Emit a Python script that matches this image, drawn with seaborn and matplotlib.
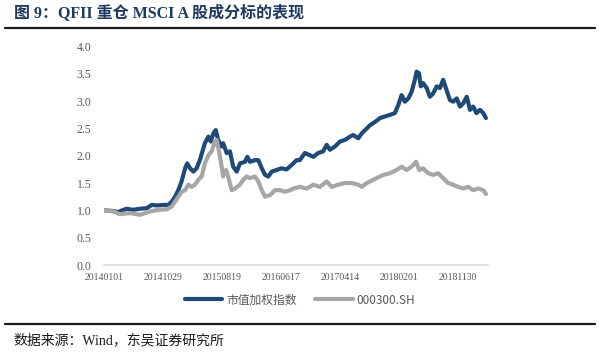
import numpy as np
import pandas as pd
import seaborn as sns
import matplotlib
matplotlib.use('Agg')
import matplotlib.pyplot as plt
from matplotlib.lines import Line2D

# trading-day index (0 = 20140101) and index level
mv_days = [0, 27, 48, 61, 77, 98, 122, 145, 162, 180, 201, 218, 230, 241, 252, 263,
           275, 282, 292, 303, 314, 325, 342, 354, 362, 371, 379, 387, 399, 404, 416,
           427, 438, 450, 461, 478, 486, 495, 512, 523, 535, 546, 557, 569, 585, 602,
           619, 636, 653, 664, 681, 698, 710, 726, 743, 755, 766, 783, 800, 817, 834,
           845, 862, 874, 891, 902, 919, 936, 953, 970, 986, 998, 1009, 1020, 1032,
           1043, 1054, 1060, 1068, 1074, 1082, 1094, 1105, 1116, 1128, 1139, 1150,
           1161, 1173, 1184, 1196, 1207, 1218, 1230, 1241, 1252, 1263, 1275, 1286, 1295]
mv_vals = [1.00, 0.99, 0.97, 1.00, 1.03, 1.01, 1.03, 1.04, 1.10, 1.09, 1.10, 1.10, 1.16,
           1.25, 1.37, 1.53, 1.77, 1.86, 1.77, 1.71, 1.77, 1.92, 2.23, 2.35, 2.26, 2.41,
           2.47, 2.29, 2.17, 2.23, 2.05, 2.08, 1.80, 1.71, 1.86, 1.89, 1.98, 1.89, 1.92,
           1.92, 1.77, 1.65, 1.62, 1.71, 1.74, 1.77, 1.75, 1.83, 1.92, 1.92, 2.05, 2.01,
           1.98, 2.05, 2.08, 2.20, 2.11, 2.17, 2.26, 2.29, 2.35, 2.38, 2.32, 2.41, 2.50,
           2.56, 2.62, 2.69, 2.72, 2.75, 2.78, 2.93, 3.11, 2.99, 3.05, 3.17, 3.39, 3.54,
           3.51, 3.27, 3.33, 3.24, 3.08, 3.14, 3.27, 3.24, 3.39, 3.21, 3.02, 2.99, 3.05,
           2.90, 2.96, 3.08, 2.84, 2.90, 2.78, 2.84, 2.78, 2.69]

hs_days = [0, 31, 54, 88, 122, 156, 184, 213, 230, 241, 252, 263, 275, 286, 297, 308,
           320, 331, 342, 354, 365, 376, 382, 391, 399, 404, 414, 421, 433, 444, 461,
           472, 484, 495, 512, 523, 535, 546, 563, 580, 597, 614, 631, 642, 664, 687,
           710, 732, 755, 772, 794, 817, 840, 862, 874, 891, 913, 936, 947, 970, 992,
           1009, 1026, 1043, 1058, 1069, 1082, 1099, 1116, 1133, 1150, 1167, 1184,
           1201, 1218, 1235, 1252, 1269, 1286, 1295]
hs_vals = [1.00, 0.98, 0.93, 0.95, 0.92, 0.98, 1.01, 1.02, 1.07, 1.16, 1.25, 1.34, 1.37,
           1.47, 1.43, 1.47, 1.56, 1.62, 1.86, 2.01, 2.08, 2.26, 2.29, 2.05, 1.80, 1.62,
           1.74, 1.62, 1.37, 1.40, 1.47, 1.56, 1.62, 1.59, 1.62, 1.53, 1.37, 1.25, 1.28,
           1.37, 1.37, 1.34, 1.37, 1.40, 1.43, 1.40, 1.47, 1.43, 1.53, 1.43, 1.47, 1.50,
           1.50, 1.47, 1.43, 1.50, 1.56, 1.62, 1.65, 1.68, 1.74, 1.80, 1.74, 1.80, 1.89,
           1.74, 1.77, 1.68, 1.65, 1.68, 1.59, 1.50, 1.47, 1.43, 1.40, 1.43, 1.37, 1.40,
           1.37, 1.30]

tick_days = [0, 200, 400, 600, 800, 1000, 1200]
tick_labels = ['20140101', '20141029', '20150819', '20160617', '20170414', '20180201', '20181130']
names = ['市值加权指数', '000300.SH']
colors = ['#1F4A78', '#A6A6A6']

df = pd.concat([
    pd.DataFrame({'day': mv_days, 'value': mv_vals, 'series': names[0]}),
    pd.DataFrame({'day': hs_days, 'value': hs_vals, 'series': names[1]}),
])

sns.set_style('white')
cjk = ['Noto Sans CJK SC', 'DejaVu Sans']
serif_cjk = ['Liberation Serif', 'Noto Sans CJK SC']
plt.rcParams['font.family'] = cjk

fig = plt.figure(figsize=(6, 3.58), dpi=100)
ax = fig.add_axes([104 / 600, 1 - 265 / 358, 384 / 600, 218.5 / 358])

sns.lineplot(data=df, x='day', y='value', hue='series', palette=dict(zip(names, colors)),
             estimator=None, sort=False, linewidth=3, legend=False, ax=ax)

ax.set_xlim(0, 1302)
ax.set_ylim(0, 4)
ax.set_yticks(np.arange(0, 4.01, 0.5))
ax.set_yticklabels([f'{v:.1f}' for v in np.arange(0, 4.01, 0.5)],
                   fontfamily='Liberation Serif', fontsize=8.5, color='#595959')
ax.set_xticks(tick_days)
ax.set_xticklabels(tick_labels, fontfamily='Liberation Serif', fontsize=7, color='#595959')
ax.tick_params(axis='both', length=0)
ax.tick_params(axis='y', pad=9)
ax.tick_params(axis='x', pad=6)
ax.set_xlabel('')
ax.set_ylabel('')
for s in ['top', 'right', 'left']:
    ax.spines[s].set_visible(False)
ax.spines['bottom'].set_color('#D9D9D9')
ax.spines['bottom'].set_linewidth(1.2)

handles = [Line2D([0], [0], color=c, lw=3) for c in colors]
fig.legend(handles, names, loc='center', bbox_to_anchor=(300 / 600, 1 - 300 / 358), ncol=2,
           frameon=False, handlelength=3.2, handletextpad=0.3, columnspacing=1.6,
           labelcolor='#595959', prop={'family': cjk, 'size': 8.5})

# title, rules and source note
fig.text(14 / 600, 1 - 14 / 358, '图 9：QFII 重仓 MSCI A 股成分标的表现', family=serif_cjk,
         fontsize=11.5, fontweight='bold', color='#1F3A60', va='center', ha='left')
fig.add_artist(Line2D([5 / 600, 595 / 600], [1 - 28 / 358, 1 - 28 / 358], color='#1a1a1a', lw=1.6))
fig.add_artist(Line2D([5 / 600, 595 / 600], [1 - 324 / 358, 1 - 324 / 358], color='#1a1a1a', lw=1.6))
fig.text(13 / 600, 1 - 340 / 358, '数据来源：Wind，东吴证券研究所', family=serif_cjk,
         fontsize=10, color='#1a1a1a', va='center', ha='left')

fig.savefig('out.png', dpi=100)
